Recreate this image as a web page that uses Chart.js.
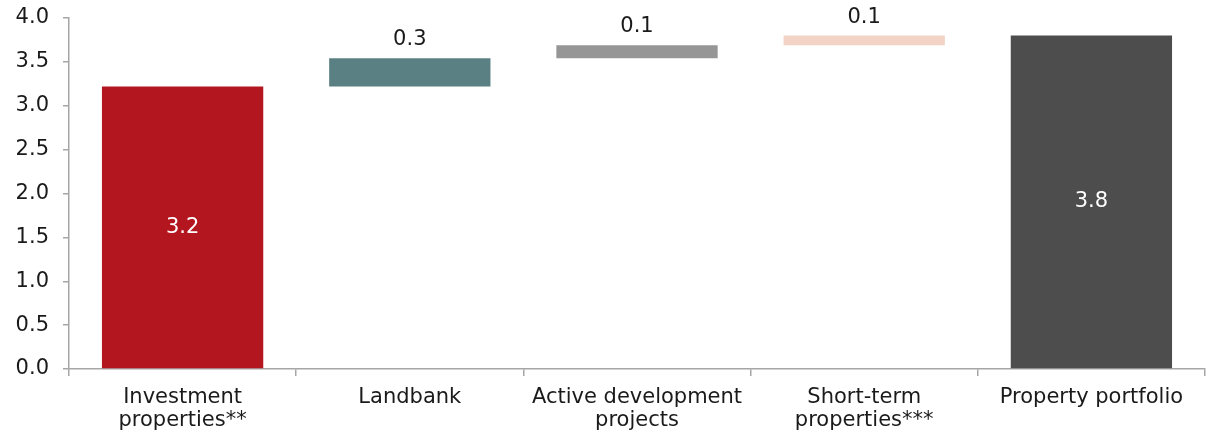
<!DOCTYPE html>
<html>
<head>
<meta charset="utf-8">
<script src="https://cdn.jsdelivr.net/npm/chart.js@4"></script>
<style>
  html, body { margin: 0; padding: 0; background: #fff; }
  #wrap { width: 1215px; height: 433px; }
</style>
</head>
<body>
<div id="wrap"><canvas id="chart"></canvas></div>
<script>
const categories = [
  ["Investment", "properties**"],
  "Landbank",
  ["Active development", "projects"],
  ["Short-term", "properties***"],
  "Property portfolio"
];
// step values of the waterfall; last one is the total
const values = [3.22, 0.32, 0.15, 0.11, 3.80];
const isTotal = [false, false, false, false, true];
const barColors = ["#B3161F", "#5B8083", "#969696", "#F2D3C6", "#4D4D4D"];
const labelInside = [true, false, false, false, true];
const yTicks = [0, 0.5, 1, 1.5, 2, 2.5, 3, 3.5, 4];

// floating bars built from the steps
let run = 0;
const floating = values.map((v, i) => {
  if (isTotal[i]) return [0, v];
  const bar = [run, run + v];
  run += v;
  return bar;
});

const FONT = "'DejaVu Sans', Verdana, sans-serif";
const FS = 21;

// value labels: inside (white) for full bars, above for steps
const valueLabels = {
  id: "valueLabels",
  afterDatasetsDraw(chart) {
    const ctx = chart.ctx;
    const meta = chart.getDatasetMeta(0);
    ctx.save();
    ctx.font = FS + "px " + FONT;
    ctx.textAlign = "center";
    meta.data.forEach((bar, i) => {
      const txt = values[i].toFixed(1);
      if (labelInside[i]) {
        ctx.fillStyle = "#ffffff";
        ctx.textBaseline = "middle";
        ctx.fillText(txt, bar.x, (bar.y + bar.base) / 2);
      } else {
        ctx.fillStyle = "#1a1a1a";
        ctx.textBaseline = "bottom";
        ctx.fillText(txt, bar.x, bar.y - 8);
      }
    });
    ctx.restore();
  }
};

new Chart(document.getElementById("chart").getContext("2d"), {
  type: "bar",
  data: {
    labels: categories,
    datasets: [{
      data: floating,
      backgroundColor: barColors,
      borderWidth: 0,
      categoryPercentage: 1,
      barPercentage: 0.71
    }]
  },
  options: {
    responsive: true,
    maintainAspectRatio: false,
    animation: false,
    layout: { padding: { top: 18, right: 10, left: 0, bottom: 0 } },
    plugins: {
      legend: { display: false },
      tooltip: { enabled: false }
    },
    scales: {
      x: {
        afterFit: s => { s.height = 64; s.paddingLeft = 0; s.paddingRight = 0; },
        grid: {
          display: true,
          offset: true,
          drawOnChartArea: false,
          drawTicks: true,
          tickLength: 7,
          color: "#A6A6A6",
          lineWidth: 1.5
        },
        border: { color: "#A6A6A6", width: 1.5 },
        ticks: {
          color: "#1a1a1a",
          font: { family: FONT, size: FS, lineHeight: 1.1 },
          padding: 10,
          maxRotation: 0,
          autoSkip: false
        }
      },
      y: {
        min: 0,
        max: 4,
        afterFit: s => { s.width = 69; s.paddingTop = 0; s.paddingBottom = 0; },
        afterBuildTicks: s => { s.ticks = yTicks.map(v => ({ value: v })); },
        grid: {
          display: true,
          drawOnChartArea: false,
          drawTicks: true,
          tickLength: 6,
          color: "#A6A6A6",
          lineWidth: 1.5
        },
        border: { color: "#A6A6A6", width: 1.5 },
        ticks: {
          color: "#1a1a1a",
          font: { family: FONT, size: FS },
          padding: 14,
          callback: v => Number(v).toFixed(1)
        }
      }
    }
  },
  plugins: [valueLabels]
});
</script>
</body>
</html>
